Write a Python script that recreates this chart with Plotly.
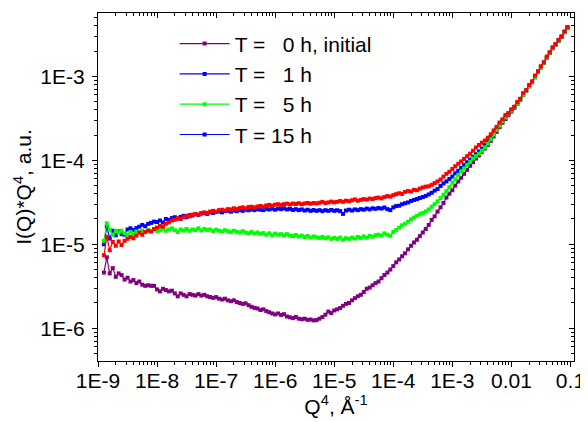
import plotly.graph_objects as go

q4 = [
    1.26e-9, 1.41e-9, 1.58e-9, 1.78e-9, 2.00e-9, 2.24e-9, 2.51e-9, 2.82e-9, 3.16e-9, 3.55e-9,
    3.98e-9, 4.47e-9, 5.01e-9, 5.62e-9, 6.31e-9, 7.08e-9, 7.94e-9, 8.91e-9, 1.00e-8, 1.12e-8,
    1.26e-8, 1.41e-8, 1.58e-8, 1.78e-8, 2.00e-8, 2.24e-8, 2.51e-8, 2.82e-8, 3.16e-8, 3.55e-8,
    3.98e-8, 4.47e-8, 5.01e-8, 5.62e-8, 6.31e-8, 7.08e-8, 7.94e-8, 8.91e-8, 1.00e-7, 1.12e-7,
    1.26e-7, 1.41e-7, 1.58e-7, 1.78e-7, 2.00e-7, 2.24e-7, 2.51e-7, 2.82e-7, 3.16e-7, 3.55e-7,
    3.98e-7, 4.47e-7, 5.01e-7, 5.62e-7, 6.31e-7, 7.08e-7, 7.94e-7, 8.91e-7, 1.00e-6, 1.12e-6,
    1.26e-6, 1.41e-6, 1.58e-6, 1.78e-6, 2.00e-6, 2.24e-6, 2.51e-6, 2.82e-6, 3.16e-6, 3.55e-6,
    3.98e-6, 4.47e-6, 5.01e-6, 5.62e-6, 6.31e-6, 7.08e-6, 7.94e-6, 8.91e-6, 1.00e-5, 1.12e-5,
    1.26e-5, 1.41e-5, 1.58e-5, 1.78e-5, 2.00e-5, 2.24e-5, 2.51e-5, 2.82e-5, 3.16e-5, 3.55e-5,
    3.98e-5, 4.47e-5, 5.01e-5, 5.62e-5, 6.31e-5, 7.08e-5, 7.94e-5, 8.91e-5, 1.00e-4, 1.12e-4,
    1.26e-4, 1.41e-4, 1.58e-4, 1.78e-4, 2.00e-4, 2.24e-4, 2.51e-4, 2.82e-4, 3.16e-4, 3.55e-4,
    3.98e-4, 4.47e-4, 5.01e-4, 5.62e-4, 6.31e-4, 7.08e-4, 7.94e-4, 8.91e-4, 1.00e-3, 1.12e-3,
    1.26e-3, 1.41e-3, 1.58e-3, 1.78e-3, 2.00e-3, 2.24e-3, 2.51e-3, 2.82e-3, 3.16e-3, 3.55e-3,
    3.98e-3, 4.47e-3, 5.01e-3, 5.62e-3, 6.31e-3, 7.08e-3, 7.94e-3, 8.91e-3, 1.00e-2, 1.12e-2,
    1.26e-2, 1.41e-2, 1.58e-2, 1.78e-2, 2.00e-2, 2.24e-2, 2.51e-2, 2.82e-2, 3.16e-2, 3.55e-2,
    3.98e-2, 4.47e-2, 5.01e-2, 5.62e-2, 6.31e-2, 7.08e-2, 7.94e-2, 8.91e-2,
]

t0h = [
    4.6e-6, 7.0e-6, 4.5e-6, 5.2e-6, 4.1e-6, 4.5e-6, 4.3e-6, 3.8e-6, 4.0e-6, 3.6e-6,
    3.75e-6, 3.45e-6, 3.6e-6, 3.3e-6, 3.2e-6, 3.25e-6, 3.2e-6, 3.2e-6, 2.9e-6, 2.75e-6,
    2.95e-6, 2.85e-6, 2.75e-6, 2.8e-6, 2.6e-6, 2.4e-6, 2.6e-6, 2.5e-6, 2.4e-6, 2.55e-6,
    2.5e-6, 2.45e-6, 2.55e-6, 2.45e-6, 2.5e-6, 2.4e-6, 2.35e-6, 2.3e-6, 2.35e-6, 2.25e-6,
    2.2e-6, 2.25e-6, 2.15e-6, 2.1e-6, 2.15e-6, 2.05e-6, 2.0e-6, 1.95e-6, 1.98e-6, 1.88e-6,
    1.8e-6, 1.75e-6, 1.72e-6, 1.65e-6, 1.68e-6, 1.6e-6, 1.55e-6, 1.5e-6, 1.46e-6, 1.5e-6,
    1.44e-6, 1.47e-6, 1.38e-6, 1.35e-6, 1.32e-6, 1.36e-6, 1.3e-6, 1.28e-6, 1.3e-6, 1.26e-6,
    1.27e-6, 1.24e-6, 1.25e-6, 1.3e-6, 1.36e-6, 1.45e-6, 1.58e-6, 1.52e-6, 1.63e-6, 1.68e-6,
    1.74e-6, 1.85e-6, 1.95e-6, 2.0e-6, 2.15e-6, 2.28e-6, 2.4e-6, 2.5e-6, 2.7e-6, 2.95e-6,
    3.05e-6, 3.25e-6, 3.45e-6, 3.6e-6, 3.95e-6, 4.3e-6, 4.6e-6, 5.0e-6, 5.5e-6, 6.1e-6,
    6.6e-6, 7.2e-6, 7.8e-6, 8.7e-6, 9.6e-6, 1.05e-5, 1.13e-5, 1.25e-5, 1.38e-5, 1.52e-5,
    1.7e-5, 1.95e-5, 2.15e-5, 2.45e-5, 2.75e-5, 3.1e-5, 3.6e-5, 4.0e-5, 4.4e-5, 5.0e-5,
    5.6e-5, 6.2e-5, 6.9e-5, 7.7e-5, 8.6e-5, 9.5e-5, 1.05e-4, 1.14e-4, 1.26e-4, 1.38e-4,
    1.52e-4, 1.7e-4, 1.92e-4, 2.18e-4, 2.48e-4, 2.8e-4, 3.1e-4, 3.45e-4, 3.8e-4, 4.2e-4,
    4.7e-4, 5.25e-4, 6.0e-4, 6.7e-4, 7.6e-4, 8.5e-4, 9.75e-4, 1.12e-3, 1.27e-3, 1.44e-3,
    1.66e-3, 1.89e-3, 2.16e-3, 2.39e-3, 2.66e-3, 2.95e-3, 3.35e-3, 3.8e-3,
]

t1h = [
    1.0e-5, 1.62e-5, 1.17e-5, 1.45e-5, 1.28e-5, 1.42e-5, 1.32e-5, 1.3e-5, 1.5e-5, 1.55e-5,
    1.48e-5, 1.56e-5, 1.62e-5, 1.7e-5, 1.64e-5, 1.75e-5, 1.8e-5, 1.86e-5, 1.84e-5, 1.92e-5,
    1.82e-5, 2.0e-5, 1.95e-5, 2.05e-5, 2.1e-5, 2.02e-5, 2.12e-5, 2.18e-5, 2.1e-5, 2.22e-5,
    2.2e-5, 2.28e-5, 2.24e-5, 2.32e-5, 2.35e-5, 2.3e-5, 2.4e-5, 2.36e-5, 2.42e-5, 2.46e-5,
    2.4e-5, 2.48e-5, 2.5e-5, 2.44e-5, 2.52e-5, 2.48e-5, 2.55e-5, 2.5e-5, 2.58e-5, 2.54e-5,
    2.6e-5, 2.55e-5, 2.62e-5, 2.58e-5, 2.55e-5, 2.64e-5, 2.6e-5, 2.66e-5, 2.58e-5, 2.66e-5,
    2.62e-5, 2.68e-5, 2.6e-5, 2.64e-5, 2.56e-5, 2.62e-5, 2.55e-5, 2.6e-5, 2.52e-5, 2.58e-5,
    2.5e-5, 2.56e-5, 2.5e-5, 2.55e-5, 2.48e-5, 2.55e-5, 2.5e-5, 2.56e-5, 2.5e-5, 2.54e-5,
    2.48e-5, 2.3e-5, 2.52e-5, 2.58e-5, 2.52e-5, 2.6e-5, 2.55e-5, 2.62e-5, 2.58e-5, 2.66e-5,
    2.6e-5, 2.68e-5, 2.64e-5, 2.7e-5, 2.66e-5, 2.74e-5, 2.62e-5, 2.55e-5, 2.75e-5, 2.85e-5,
    2.88e-5, 3.0e-5, 3.08e-5, 3.15e-5, 3.28e-5, 3.37e-5, 3.45e-5, 3.55e-5, 3.65e-5, 3.76e-5,
    3.92e-5, 4.1e-5, 4.35e-5, 4.55e-5, 4.95e-5, 5.3e-5, 5.6e-5, 6.0e-5, 6.4e-5, 7.0e-5,
    7.5e-5, 8.1e-5, 8.8e-5, 9.5e-5, 1.02e-4, 1.1e-4, 1.18e-4, 1.27e-4, 1.38e-4, 1.52e-4,
    1.68e-4, 1.9e-4, 2.12e-4, 2.4e-4, 2.7e-4, 3.0e-4, 3.3e-4, 3.6e-4, 3.95e-4, 4.3e-4,
    4.8e-4, 5.35e-4, 6.1e-4, 6.8e-4, 7.7e-4, 8.6e-4, 9.9e-4, 1.14e-3, 1.29e-3, 1.46e-3,
    1.68e-3, 1.92e-3, 2.18e-3, 2.42e-3, 2.68e-3, 2.97e-3, 3.38e-3, 3.82e-3,
]

t5h = [
    1.1e-5, 1.78e-5, 1.48e-5, 1.3e-5, 1.45e-5, 1.38e-5, 1.45e-5, 1.35e-5, 1.3e-5, 1.4e-5,
    1.32e-5, 1.42e-5, 1.38e-5, 1.45e-5, 1.4e-5, 1.48e-5, 1.42e-5, 1.5e-5, 1.44e-5, 1.48e-5,
    1.52e-5, 1.45e-5, 1.5e-5, 1.55e-5, 1.47e-5, 1.4e-5, 1.5e-5, 1.46e-5, 1.52e-5, 1.45e-5,
    1.5e-5, 1.48e-5, 1.55e-5, 1.46e-5, 1.52e-5, 1.48e-5, 1.5e-5, 1.44e-5, 1.49e-5, 1.45e-5,
    1.42e-5, 1.47e-5, 1.43e-5, 1.4e-5, 1.45e-5, 1.41e-5, 1.38e-5, 1.43e-5, 1.38e-5, 1.35e-5,
    1.4e-5, 1.34e-5, 1.38e-5, 1.33e-5, 1.36e-5, 1.3e-5, 1.35e-5, 1.28e-5, 1.34e-5, 1.3e-5,
    1.32e-5, 1.28e-5, 1.32e-5, 1.27e-5, 1.25e-5, 1.29e-5, 1.24e-5, 1.27e-5, 1.22e-5, 1.26e-5,
    1.2e-5, 1.24e-5, 1.21e-5, 1.19e-5, 1.22e-5, 1.18e-5, 1.21e-5, 1.16e-5, 1.19e-5, 1.16e-5,
    1.2e-5, 1.13e-5, 1.18e-5, 1.16e-5, 1.2e-5, 1.17e-5, 1.22e-5, 1.19e-5, 1.24e-5, 1.2e-5,
    1.26e-5, 1.23e-5, 1.28e-5, 1.3e-5, 1.27e-5, 1.35e-5, 1.3e-5, 1.26e-5, 1.4e-5, 1.48e-5,
    1.58e-5, 1.68e-5, 1.75e-5, 1.86e-5, 1.98e-5, 2.08e-5, 2.18e-5, 2.28e-5, 2.36e-5, 2.46e-5,
    2.6e-5, 2.8e-5, 3.0e-5, 3.25e-5, 3.55e-5, 3.9e-5, 4.3e-5, 4.8e-5, 5.4e-5, 6.0e-5,
    6.7e-5, 7.4e-5, 8.0e-5, 8.8e-5, 9.6e-5, 1.05e-4, 1.12e-4, 1.2e-4, 1.3e-4, 1.42e-4,
    1.58e-4, 1.78e-4, 2.02e-4, 2.3e-4, 2.6e-4, 2.92e-4, 3.25e-4, 3.58e-4, 3.9e-4, 4.28e-4,
    4.75e-4, 5.3e-4, 6.05e-4, 6.75e-4, 7.65e-4, 8.55e-4, 9.8e-4, 1.13e-3, 1.28e-3, 1.45e-3,
    1.67e-3, 1.9e-3, 2.17e-3, 2.4e-3, 2.67e-3, 2.96e-3, 3.36e-3, 3.8e-3,
]

t15h = [
    7.4e-6, 1.23e-5, 8.5e-6, 1.07e-5, 9.6e-6, 1.08e-5, 9.8e-6, 1.1e-5, 1.16e-5, 1.22e-5,
    1.18e-5, 1.27e-5, 1.38e-5, 1.3e-5, 1.4e-5, 1.45e-5, 1.42e-5, 1.52e-5, 1.58e-5, 1.65e-5,
    1.62e-5, 1.75e-5, 1.82e-5, 1.92e-5, 1.96e-5, 2.05e-5, 2.0e-5, 2.1e-5, 2.18e-5, 2.15e-5,
    2.25e-5, 2.3e-5, 2.25e-5, 2.35e-5, 2.4e-5, 2.36e-5, 2.45e-5, 2.5e-5, 2.45e-5, 2.55e-5,
    2.58e-5, 2.52e-5, 2.62e-5, 2.6e-5, 2.68e-5, 2.62e-5, 2.7e-5, 2.75e-5, 2.68e-5, 2.78e-5,
    2.8e-5, 2.74e-5, 2.82e-5, 2.86e-5, 2.8e-5, 2.9e-5, 2.94e-5, 2.88e-5, 2.96e-5, 3.0e-5,
    2.94e-5, 3.0e-5, 3.05e-5, 2.98e-5, 3.05e-5, 3.02e-5, 3.08e-5, 3.0e-5, 3.06e-5, 3.1e-5,
    3.04e-5, 3.1e-5, 3.06e-5, 3.12e-5, 3.2e-5, 3.1e-5, 3.15e-5, 3.22e-5, 3.16e-5, 3.2e-5,
    3.28e-5, 3.2e-5, 3.3e-5, 3.26e-5, 3.34e-5, 3.42e-5, 3.3e-5, 3.38e-5, 3.45e-5, 3.4e-5,
    3.5e-5, 3.46e-5, 3.55e-5, 3.6e-5, 3.52e-5, 3.65e-5, 3.75e-5, 3.7e-5, 3.85e-5, 3.95e-5,
    4.05e-5, 3.98e-5, 4.2e-5, 4.3e-5, 4.25e-5, 4.45e-5, 4.4e-5, 4.6e-5, 4.75e-5, 4.85e-5,
    4.9e-5, 5.1e-5, 5.35e-5, 5.6e-5, 5.9e-5, 6.4e-5, 6.9e-5, 7.3e-5, 7.9e-5, 8.5e-5,
    9.1e-5, 9.7e-5, 1.04e-4, 1.12e-4, 1.2e-4, 1.3e-4, 1.42e-4, 1.52e-4, 1.62e-4, 1.72e-4,
    1.86e-4, 2.04e-4, 2.27e-4, 2.5e-4, 2.82e-4, 3.08e-4, 3.45e-4, 3.65e-4, 4.05e-4, 4.35e-4,
    4.95e-4, 5.4e-4, 6.3e-4, 6.85e-4, 7.9e-4, 8.7e-4, 1.02e-3, 1.15e-3, 1.32e-3, 1.47e-3,
    1.72e-3, 1.93e-3, 2.22e-3, 2.42e-3, 2.72e-3, 2.98e-3, 3.42e-3, 3.85e-3,
]

labels = ["T =\u00a0\u00a0\u00a00 h, initial", "T =\u00a0\u00a0\u00a01 h",
          "T =\u00a0\u00a0\u00a05 h", "T = 15 h"]
x_tickvals = [1e-9, 1e-8, 1e-7, 1e-6, 1e-5, 1e-4, 1e-3, 1e-2, 1e-1]
x_ticktext = ["1E-9", "1E-8", "1E-7", "1E-6", "1E-5", "1E-4", "1E-3", "0.01", "0.1"]
y_tickvals = [1e-6, 1e-5, 1e-4, 1e-3]
y_ticktext = ["1E-6", "1E-5", "1E-4", "1E-3"]

PURPLE = "#800080"
BLUE = "#0000FF"
GREEN = "#00FF00"
RED = "#FF0000"
FONT = "Arial, Liberation Sans, sans-serif"

# minor tick positions (2..9 within each decade)
x_minor = [m * 10.0 ** e for e in range(-9, 0) for m in range(2, 10)]
y_minor = [m * 10.0 ** e for e in range(-7, -2) for m in range(2, 10)]

fig = go.Figure()


def add(y, name, color, show=True):
    fig.add_trace(go.Scatter(
        x=q4, y=y, name=name, mode="lines+markers",
        line=dict(color=color, width=1.2),
        marker=dict(symbol="square", size=4, color=color, line=dict(width=0)),
        showlegend=show,
    ))


add(t0h, labels[0], PURPLE)
add(t1h, labels[1], BLUE)
add(t5h, labels[2], GREEN)
add(t15h, labels[3], RED, show=False)
# legend entry of the 15 h series is drawn in blue in the original
fig.add_trace(go.Scatter(
    x=[None], y=[None], name=labels[3], mode="lines+markers",
    line=dict(color=BLUE, width=1.2),
    marker=dict(symbol="square", size=4, color=BLUE),
))
# helper traces so the extra tick-only axes are drawn
fig.add_trace(go.Scatter(x=[None], y=[None], xaxis="x2", yaxis="y2",
                         showlegend=False, hoverinfo="skip"))
fig.add_trace(go.Scatter(x=[None], y=[None], xaxis="x3", yaxis="y",
                         showlegend=False, hoverinfo="skip"))

XR = [-9, -0.94]
YR = [-6.39, -2.246]


def minor(vals, side):
    return dict(ticks=side, ticklen=3, tickwidth=1, tickcolor="black",
                tickmode="array", tickvals=vals, showgrid=False)


base = dict(type="log", showgrid=False, zeroline=False, tickmode="array",
            automargin=False)

# the page body adds an 8 px offset, so the figure is shifted accordingly
fig.update_layout(
    width=578, height=414,
    margin=dict(l=90, r=12, t=5, b=61, autoexpand=False),
    paper_bgcolor="white", plot_bgcolor="white",
    font=dict(family=FONT, color="black"),
    xaxis=dict(
        **base, range=XR, tickvals=x_tickvals, ticktext=x_ticktext,
        showline=False, ticks="", ticklabelstandoff=5, ticklabeloverflow="allow",
        tickfont=dict(family=FONT, size=21, color="black"),
        title=dict(text="Q<sup>4</sup>, Å<sup>-1</sup>",
                   font=dict(family=FONT, size=21, color="black"), standoff=8),
    ),
    # bottom axis line with major/minor outside ticks
    xaxis3=dict(
        **base, range=XR, tickvals=x_tickvals, overlaying="x", side="bottom",
        showline=True, linecolor="black", linewidth=1.3,
        ticks="outside", ticklen=5, tickwidth=1, tickcolor="black",
        minor=minor(x_minor, "outside"), showticklabels=False,
    ),
    yaxis=dict(
        **base, range=YR, tickvals=y_tickvals, ticktext=y_ticktext,
        showline=True, linecolor="black", linewidth=1.3,
        ticks="outside", ticklen=5, tickwidth=1, tickcolor="black",
        minor=minor(y_minor, "outside"), ticklabelstandoff=3,
        tickfont=dict(family=FONT, size=21, color="black"),
        title=dict(text="I(Q)*Q<sup>4</sup>, a.u.",
                   font=dict(family=FONT, size=21, color="black"), standoff=2),
    ),
    xaxis2=dict(**base, range=XR, overlaying="x", side="top", tickvals=x_tickvals,
                showline=True, linecolor="black", linewidth=1.3,
                ticks="inside", ticklen=5, tickcolor="black", showticklabels=False,
                minor=minor(x_minor, "inside")),
    yaxis2=dict(**base, range=YR, overlaying="y", side="right", tickvals=y_tickvals,
                showline=True, linecolor="black", linewidth=1.3,
                ticks="inside", ticklen=5, tickcolor="black", showticklabels=False,
                minor=minor(y_minor, "inside")),
    legend=dict(
        x=0.161, y=0.97, xanchor="left", yanchor="top",
        bgcolor="rgba(0,0,0,0)", borderwidth=0,
        font=dict(family=FONT, size=21, color="black"),
        itemwidth=50, tracegroupgap=0,
    ),
    showlegend=True,
)

fig.write_html("out.html")
